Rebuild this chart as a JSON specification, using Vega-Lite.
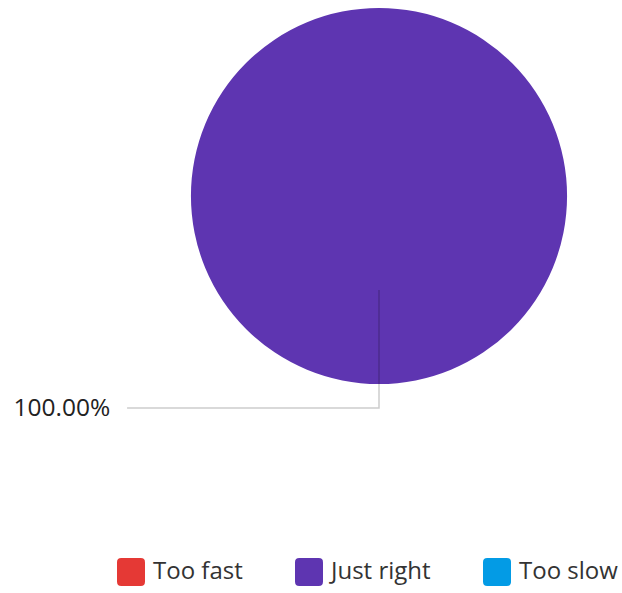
{
  "$schema": "https://vega.github.io/schema/vega-lite/v6.json",
  "width": 376,
  "height": 376,
  "autosize": "none",
  "padding": {"left": 191, "top": 8, "right": 55, "bottom": 209},
  "background": "white",
  "config": {"view": {"stroke": null}, "font": "Open Sans"},
  "datasets": {
    "slices": [
      {"category": "Too fast", "value": 0},
      {"category": "Just right", "value": 100},
      {"category": "Too slow", "value": 0}
    ],
    "leader": [
      {"px": 0, "py": -0.5, "step": 1},
      {"px": 0, "py": -1.128, "step": 2},
      {"px": -1.34, "py": -1.128, "step": 3}
    ],
    "labels": [
      {"px": -1.43, "py": -1.133, "label": "100.00%"}
    ]
  },
  "layer": [
    {
      "data": {"name": "slices"},
      "mark": {"type": "arc"},
      "encoding": {
        "theta": {"field": "value", "type": "quantitative", "stack": true},
        "order": {"field": "value", "type": "quantitative", "sort": "descending"},
        "color": {
          "field": "category",
          "type": "nominal",
          "scale": {
            "domain": ["Too fast", "Just right", "Too slow"],
            "range": ["#E53935", "#5E35B1", "#039BE5"]
          },
          "legend": {
            "orient": "none",
            "direction": "horizontal",
            "legendX": -74,
            "legendY": 550,
            "title": null,
            "symbolType": "M-1,-0.7 Q-1,-1 -0.7,-1 L0.7,-1 Q1,-1 1,-0.7 L1,0.7 Q1,1 0.7,1 L-0.7,1 Q-1,1 -1,0.7 Z",
            "symbolSize": 784,
            "symbolStrokeWidth": 0,
            "symbolOpacity": 1,
            "labelFontSize": 24,
            "labelColor": "#333333",
            "labelFont": "Open Sans",
            "labelOffset": 8,
            "columnPadding": 52,
            "labelLimit": 300
          }
        }
      }
    },
    {
      "data": {"name": "leader"},
      "mark": {"type": "line", "color": "black", "opacity": 0.2, "strokeWidth": 1.5},
      "encoding": {
        "x": {"field": "px", "type": "quantitative", "scale": {"domain": [-1, 1]}, "axis": null},
        "y": {"field": "py", "type": "quantitative", "scale": {"domain": [-1, 1]}, "axis": null},
        "order": {"field": "step", "type": "quantitative"}
      }
    },
    {
      "data": {"name": "labels"},
      "mark": {"type": "text", "align": "right", "baseline": "middle", "fontSize": 24.5, "color": "#222222", "font": "Open Sans"},
      "encoding": {
        "x": {"field": "px", "type": "quantitative", "scale": {"domain": [-1, 1]}, "axis": null},
        "y": {"field": "py", "type": "quantitative", "scale": {"domain": [-1, 1]}, "axis": null},
        "text": {"field": "label", "type": "nominal"}
      }
    }
  ]
}
